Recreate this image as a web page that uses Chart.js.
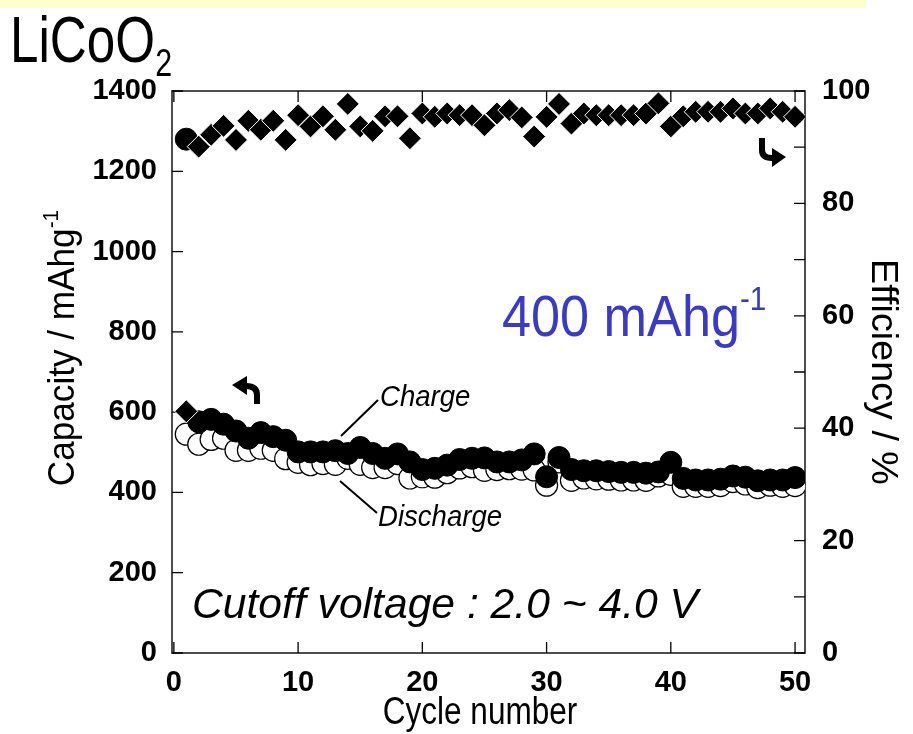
<!DOCTYPE html>
<html><head><meta charset="utf-8">
<script src="https://cdn.jsdelivr.net/npm/chart.js@4.4.1/dist/chart.umd.min.js"></script>
<style>html,body{margin:0;padding:0;background:#fff;overflow:hidden}#wrap{position:relative;width:913px;height:734px}</style>
</head><body><div id="wrap"><canvas id="c" width="913" height="734"></canvas></div>
<script>
const cycles = [1,2,3,4,5,6,7,8,9,10,11,12,13,14,15,16,17,18,19,20,21,22,23,24,25,26,27,28,29,30,31,32,33,34,35,36,37,38,39,40,41,42,43,44,45,46,47,48,49,50];
const chargeCapacity = [1280,576,582,570,553,535,549,539,530,501, 501,501,504,497,512,497,485,496,476,457, 460,468,482,485,486,476,476,481,496,439, 487,457,454,454,452,450,450,448,451,475, 435,431,431,433,441,438,429,431,431,437];
const dischargeCapacity = [545,520,532,535,505,505,510,505,484,475, 469,472,470,485,470,462,462,472,436,439, 438,449,461,464,455,457,459,458,456,418, 476,430,436,434,433,431,431,430,441,445, 415,415,415,417,427,421,412,418,415,417];
const efficiency = [43,90.1,92.2,93.8,91.3,94.7,93.1,94.7,91.3,95.7, 93.7,95.5,93.1,97.7,93.7,92.9,95.5,95.5,91.6,96.0, 95.4,96.0,95.7,95.7,93.9,96.0,96.6,95.3,91.9,95.4, 97.7,94.2,96.0,95.7,95.7,95.7,95.7,96.0,97.8,93.7, 95.5,96.3,96.3,96.3,96.9,96.0,96.0,96.9,96.3,95.4];
const xTicks = [0,10,20,30,40,50];
const capacityTicks = [0,200,400,600,800,1000,1200,1400];
const efficiencyTicks = [0,20,40,60,80,100];
const efficiencyMinorTicks = [0,10,20,30,40,50,60,70,80,90,100];

const FAM = "'Liberation Sans', Arial, sans-serif";
const tickFont = {family: FAM, size: 29, weight: 'bold'};
const plainLabel = v => String(v);

function pts(ys){ return cycles.map((c,i)=>({x:c, y:ys[i]})); }

function drawParts(ctx, parts, cx, cy, opts){
  ctx.save();
  ctx.translate(cx, cy);
  if (opts.rot) ctx.rotate(opts.rot);
  const sx = opts.sx || 1;
  ctx.scale(sx, 1);
  let total = 0;
  parts.forEach(p=>{ ctx.font = p.font; p.w = ctx.measureText(p.text).width; total += p.w; });
  let x = opts.align === 'left' ? 0 : -total/2;
  ctx.fillStyle = opts.color || '#000';
  ctx.textBaseline = 'alphabetic';
  ctx.textAlign = 'left';
  parts.forEach(p=>{ ctx.font = p.font; ctx.fillText(p.text, x, p.dy || 0); x += p.w; });
  ctx.restore();
}

const decor = {
  id: 'decor',
  beforeDraw(chart){
    const ctx = chart.ctx;
    ctx.save();
    ctx.fillStyle = '#fff';
    ctx.fillRect(0,0,chart.width,chart.height);
    ctx.fillStyle = '#ffffcc';
    ctx.fillRect(0,0,866,8);
    ctx.restore();
  },
  beforeDatasetsDraw(chart){
    const ctx = chart.ctx, a = chart.chartArea;
    const sx = chart.scales.x, sy = chart.scales.y, sy2 = chart.scales.y2;
    ctx.save();
    ctx.strokeStyle = '#222';
    ctx.lineWidth = 1.6;
    ctx.strokeRect(a.left, a.top, a.right - a.left, a.bottom - a.top);
    ctx.strokeStyle = '#000';
    ctx.lineWidth = 1.3;
    ctx.beginPath();
    xTicks.forEach(v=>{
      const px = sx.getPixelForValue(v);
      ctx.moveTo(px, a.bottom); ctx.lineTo(px, a.bottom - 11);
      ctx.moveTo(px, a.top); ctx.lineTo(px, a.top + 11);
    });
    capacityTicks.forEach(v=>{
      const py = sy.getPixelForValue(v);
      ctx.moveTo(a.left, py); ctx.lineTo(a.left + 11, py);
    });
    efficiencyMinorTicks.forEach(v=>{
      const py = sy2.getPixelForValue(v);
      ctx.moveTo(a.right, py); ctx.lineTo(a.right - 11, py);
    });
    ctx.stroke();
    ctx.restore();
  },
  afterDraw(chart){
    const ctx = chart.ctx;
    drawParts(ctx, [
      {text:'LiCoO', font:`64px ${FAM}`},
      {text:'2', font:`38px ${FAM}`, dy:14}
    ], 10, 62, {align:'left', sx:0.8});
    drawParts(ctx, [
      {text:'Capacity / mAhg', font:`37px ${FAM}`},
      {text:'-1', font:`22px ${FAM}`, dy:-16}
    ], 74, 348, {rot:-Math.PI/2, sx:0.95});
    drawParts(ctx, [{text:'Efficiency / %', font:`37px ${FAM}`}], 872, 372, {rot:Math.PI/2, sx:1.02});
    drawParts(ctx, [{text:'Cycle number', font:`38px ${FAM}`}], 480, 724, {sx:0.83});
    drawParts(ctx, [
      {text:'400 mAhg', font:`58px ${FAM}`},
      {text:'-1', font:`33px ${FAM}`, dy:-26}
    ], 502, 336, {align:'left', sx:0.9, color:'#3a3ac8'});
    drawParts(ctx, [{text:'Charge', font:`italic 29px ${FAM}`}], 380, 406, {align:'left', sx:0.95});
    drawParts(ctx, [{text:'Discharge', font:`italic 29px ${FAM}`}], 378, 526, {align:'left', sx:0.95});
    drawParts(ctx, [{text:'Cutoff voltage : 2.0 ~ 4.0 V', font:`italic 42px ${FAM}`}], 192, 618, {align:'left', sx:1.015});
    ctx.save();
    ctx.strokeStyle = '#000';
    ctx.lineWidth = 2;
    ctx.beginPath();
    ctx.moveTo(378, 400); ctx.lineTo(341, 436);
    ctx.moveTo(340, 481); ctx.lineTo(377, 513);
    ctx.stroke();
    ctx.lineWidth = 6;
    ctx.lineCap = 'butt';
    ctx.beginPath();
    ctx.moveTo(257, 404); ctx.lineTo(257, 395);
    ctx.quadraticCurveTo(257, 386, 246, 386);
    ctx.stroke();
    ctx.fillStyle = '#000';
    ctx.beginPath();
    ctx.moveTo(232, 385); ctx.lineTo(247, 376); ctx.lineTo(247, 395); ctx.closePath();
    ctx.fill();
    ctx.beginPath();
    ctx.moveTo(762, 138); ctx.lineTo(762, 150);
    ctx.quadraticCurveTo(762, 158, 772, 158);
    ctx.stroke();
    ctx.beginPath();
    ctx.moveTo(786, 157); ctx.lineTo(772, 148); ctx.lineTo(772, 167); ctx.closePath();
    ctx.fill();
    ctx.restore();
  }
};

new Chart(document.getElementById('c'), {
  type: 'scatter',
  data: {
    datasets: [
      {label:'Efficiency', data: pts(efficiency), yAxisID:'y2', pointStyle:'rectRot', pointRadius:11.5, backgroundColor:'#000', borderColor:'#fff', borderWidth:1, showLine:false},
      {label:'Charge', data: pts(chargeCapacity), yAxisID:'y', pointStyle:'circle', pointRadius:11, backgroundColor:'#000', borderColor:'#000', borderWidth:1, showLine:false},
      {label:'Discharge', data: pts(dischargeCapacity), yAxisID:'y', pointStyle:'circle', pointRadius:11, backgroundColor:'#fff', borderColor:'#000', borderWidth:1.2, showLine:false}
    ]
  },
  options: {
    responsive:false, animation:false, devicePixelRatio:1,
    layout:{padding:{top:91, left:0, right:0, bottom:0}},
    plugins:{legend:{display:false}, tooltip:{enabled:false}},
    scales:{
      x:{type:'linear', position:'bottom', min:-0.15, max:50.8,
        afterBuildTicks:s=>{s.ticks = xTicks.map(v=>({value:v}));},
        afterFit:s=>{s.height = 81;},
        grid:{display:false, drawTicks:false}, border:{display:false},
        ticks:{padding:13, color:'#000', font:tickFont, maxRotation:0, callback:plainLabel}},
      y:{type:'linear', position:'left', min:0, max:1400,
        afterBuildTicks:s=>{s.ticks = capacityTicks.map(v=>({value:v}));},
        afterFit:s=>{s.width = 172;},
        grid:{display:false, drawTicks:false}, border:{display:false},
        ticks:{padding:15, color:'#000', font:tickFont, callback:plainLabel}},
      y2:{type:'linear', position:'right', min:0, max:100,
        afterBuildTicks:s=>{s.ticks = efficiencyTicks.map(v=>({value:v}));},
        afterFit:s=>{s.width = 108;},
        grid:{display:false, drawTicks:false}, border:{display:false},
        ticks:{padding:17, color:'#000', font:tickFont, callback:plainLabel}}
    }
  },
  plugins:[decor]
});
</script>
</body></html>
